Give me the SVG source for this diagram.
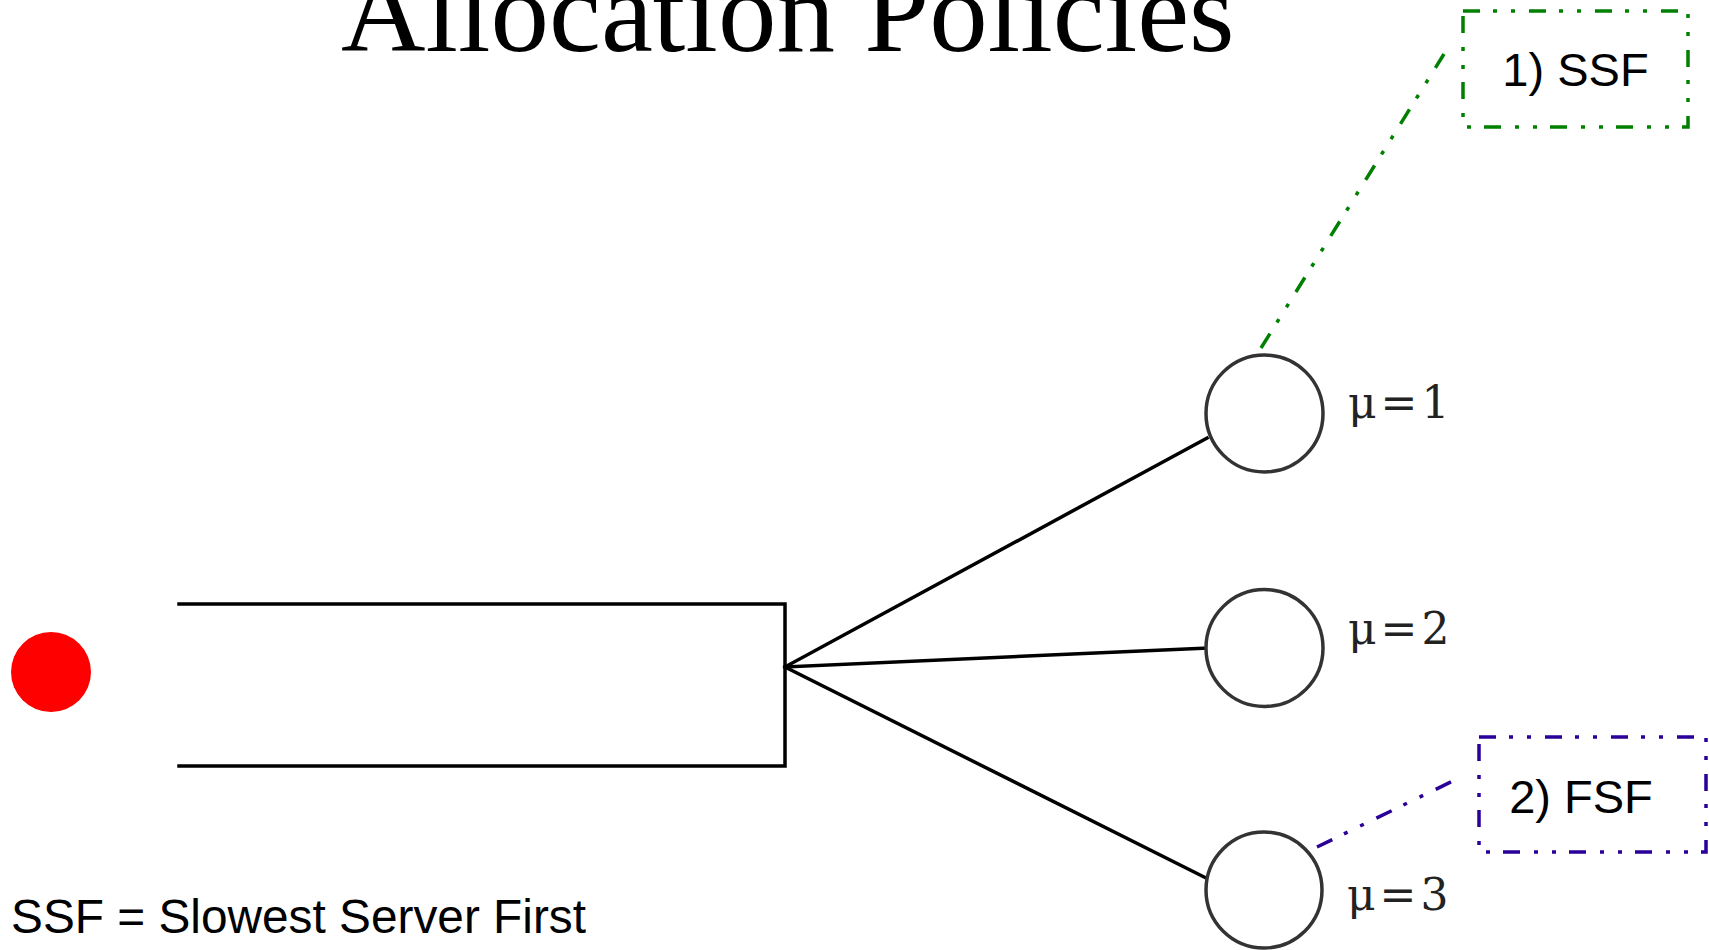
<svg xmlns="http://www.w3.org/2000/svg" width="1709" height="950" viewBox="0 0 1709 950">
  <style>
    .title { font-family: "Liberation Serif", "Times New Roman", serif; font-size: 117px; fill: #000; }
    .label { font-family: "Liberation Sans", Arial, sans-serif; font-size: 47px; fill: #000; }
    .legend { font-size: 47.8px; }
    .rate { font-family: "DejaVu Serif", "Liberation Serif", serif; font-size: 44px; fill: #222; letter-spacing: 4px; }
    .server { fill: #fff; stroke: #333; stroke-width: 3.5; }
    .wire { stroke: #000; stroke-width: 3.5; fill: none; stroke-linecap: square; }
    .dashdot { stroke-width: 3.5; fill: none; stroke-dasharray: 17 13 4 14 4 14; }
    .green { stroke: #008000; }
    .blue { stroke: #2a0098; }
  </style>

  <rect width="1709" height="950" fill="#fff"/>

  <text class="title" x="341" y="51">Allocation Policies</text>

  <!-- queue and routing lines -->
  <g id="connectors">
    <path class="wire" d="M179 604 H785 V766 H179"/>
    <line class="wire" x1="785" y1="667" x2="1207" y2="438"/>
    <line class="wire" x1="785" y1="667" x2="1207" y2="648"/>
    <line class="wire" x1="785" y1="667" x2="1206" y2="878"/>
    <line class="dashdot green" x1="1261" y1="348" x2="1444" y2="54"/>
    <line class="dashdot blue" x1="1317" y1="847" x2="1459" y2="778"/>
  </g>

  <g id="arrival">
    <circle cx="51" cy="672" r="40" fill="#ff0000"/>
  </g>

  <g id="server1">
    <circle class="server" cx="1264.5" cy="413.5" r="58.5"/>
    <text class="rate" x="1348" y="418">μ=1</text>
  </g>

  <g id="server2">
    <circle class="server" cx="1264.5" cy="648" r="58.5"/>
    <text class="rate" x="1348" y="644">μ=2</text>
  </g>

  <g id="server3">
    <circle class="server" cx="1264" cy="890" r="58"/>
    <text class="rate" x="1347" y="910">μ=3</text>
  </g>

  <g id="policy-ssf">
    <rect class="dashdot green" x="1463" y="11" width="225" height="116"/>
    <text class="label" x="1575.5" y="86" text-anchor="middle">1) SSF</text>
  </g>

  <g id="policy-fsf">
    <rect class="dashdot blue" x="1479" y="737" width="227" height="115"/>
    <text class="label" x="1581" y="813" text-anchor="middle">2) FSF</text>
  </g>

  <g id="legend">
    <text class="label legend" x="11" y="933">SSF = Slowest Server First</text>
  </g>
</svg>
